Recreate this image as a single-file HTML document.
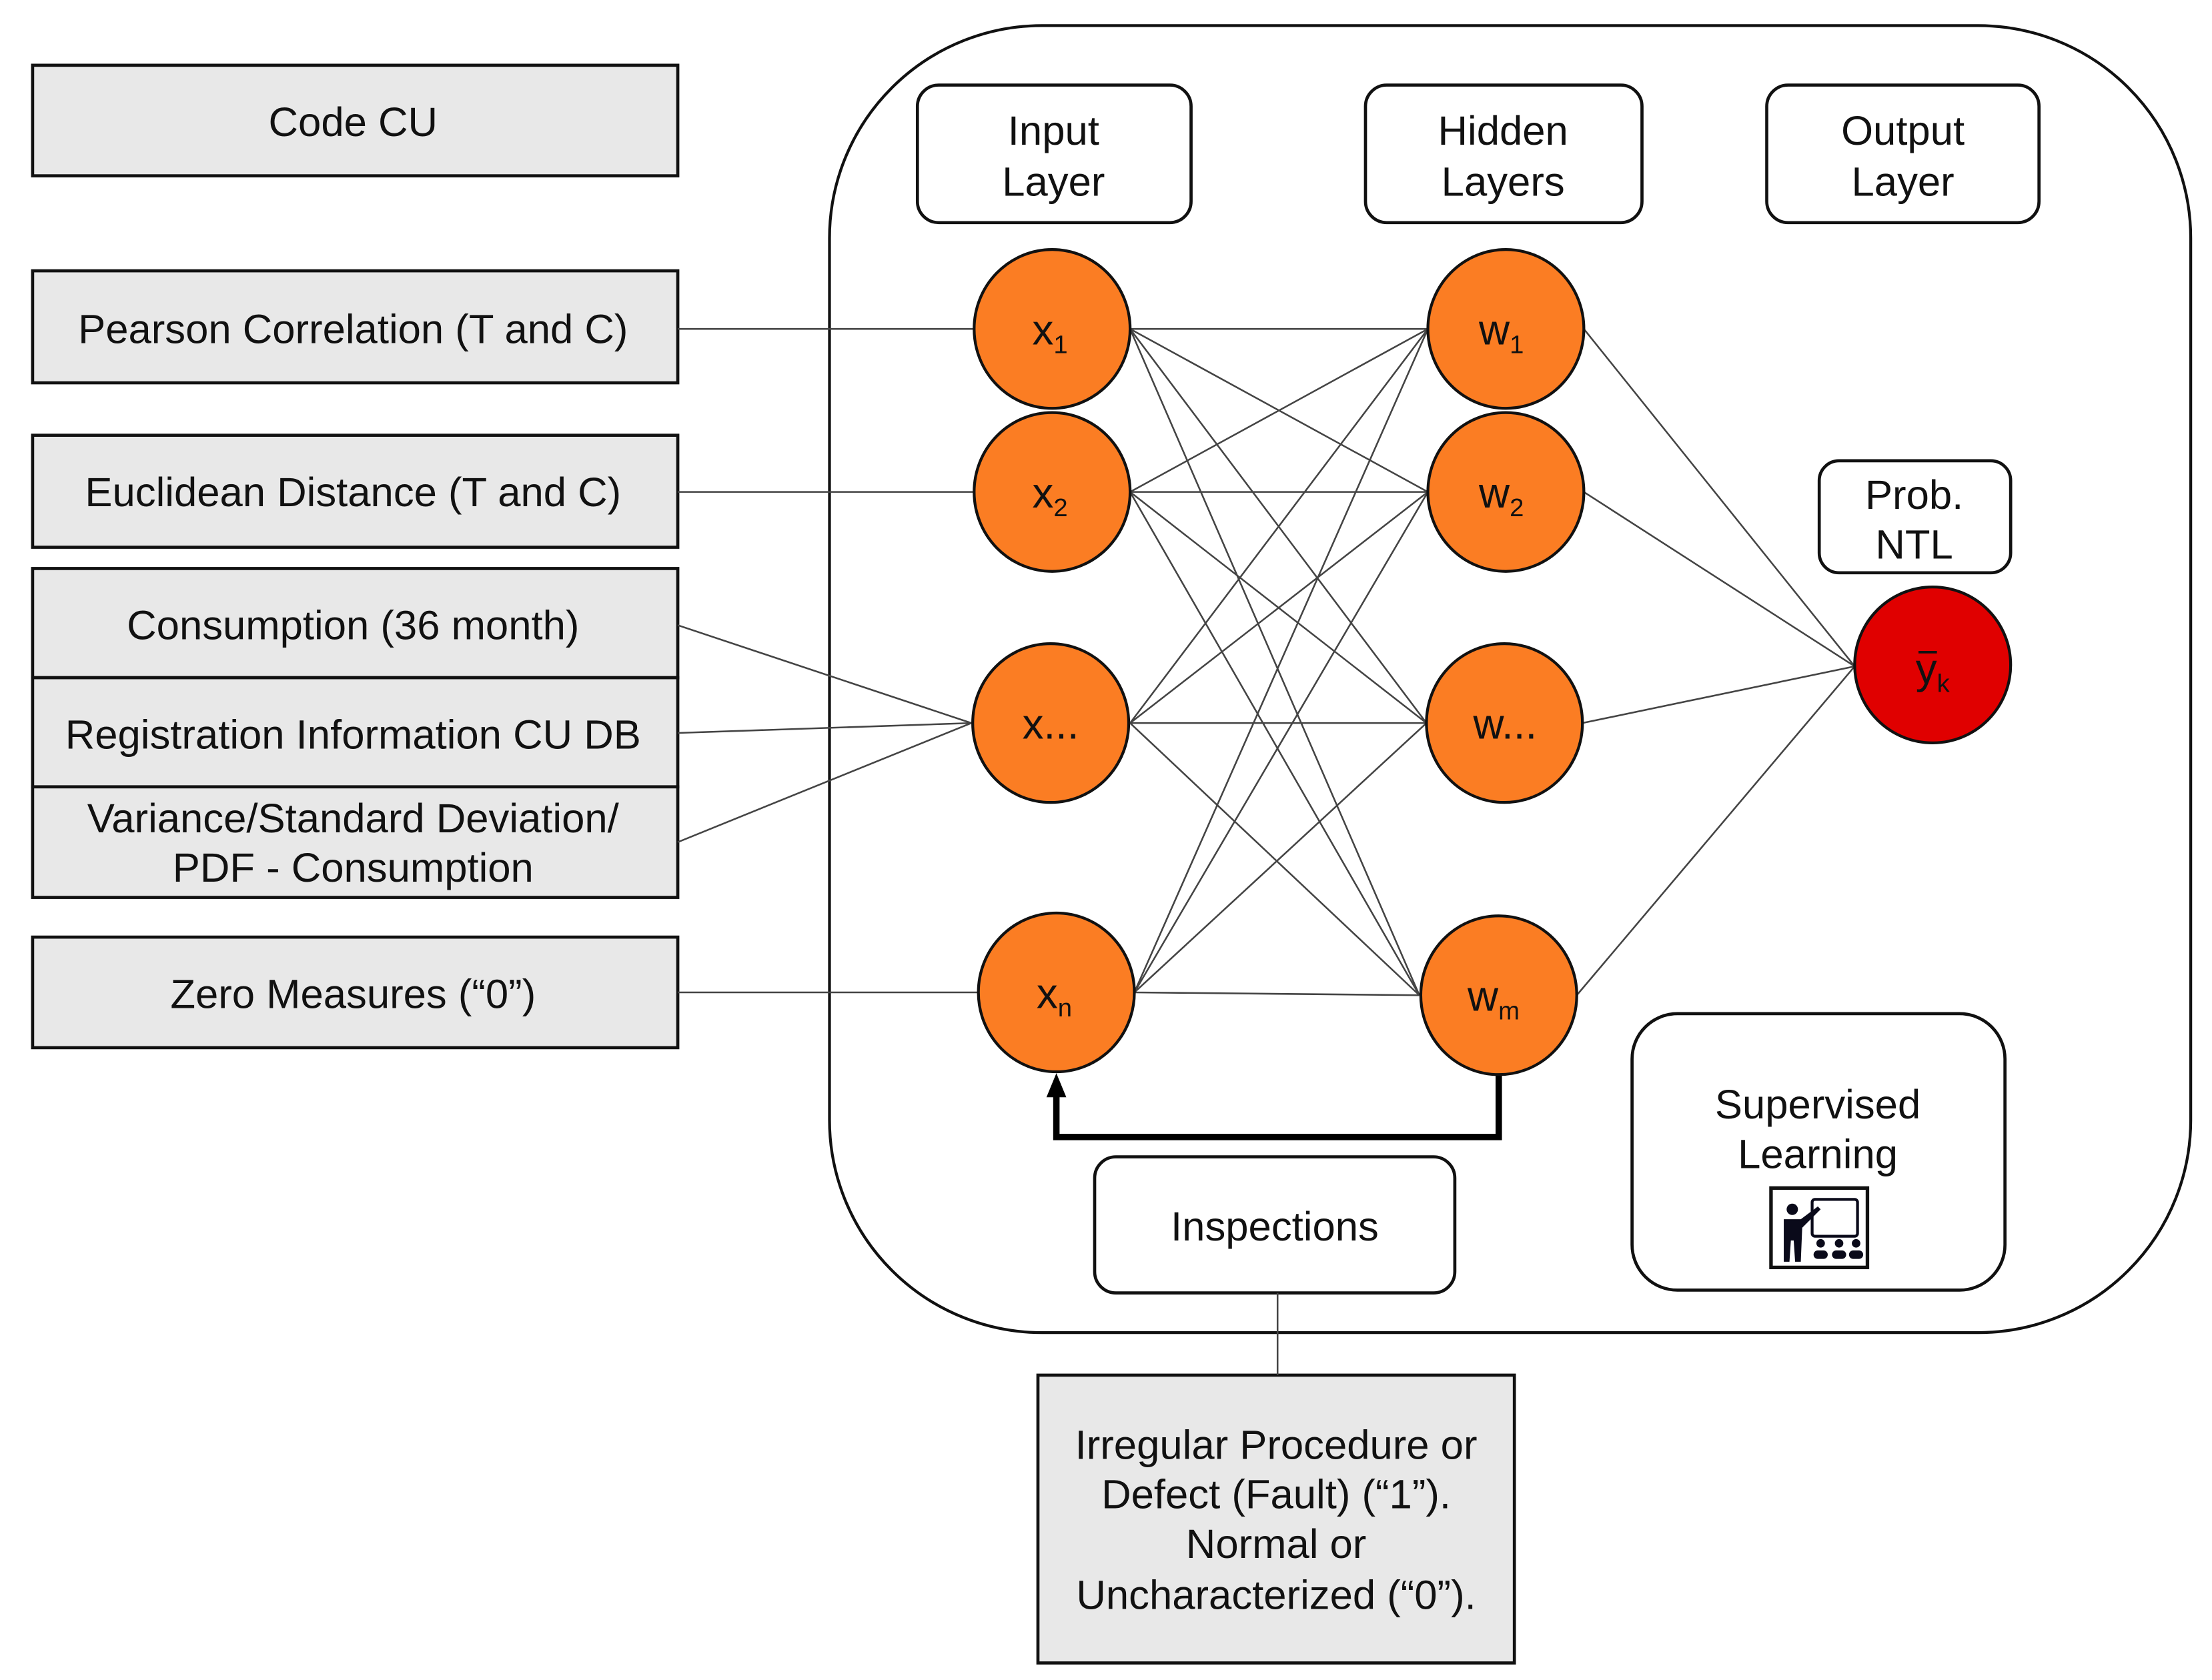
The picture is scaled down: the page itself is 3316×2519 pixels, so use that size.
<!DOCTYPE html>
<html><head><meta charset="utf-8"><style>html,body{margin:0;padding:0;background:#fff}svg{display:block}text{font-family:"Liberation Sans",Arial,sans-serif;fill:#111}</style></head>
<body>
<svg width="3316" height="2519" viewBox="0 0 1560 1185" xmlns="http://www.w3.org/2000/svg">
<rect x="0" y="0" width="1560" height="1185" fill="#fff"/>
<rect x="585" y="18" width="960" height="922" rx="150" fill="#fff" stroke="#111" stroke-width="2"/>
<g fill="#e8e8e8" stroke="#111" stroke-width="2.2">
<rect x="23" y="46" width="455" height="78"/>
<rect x="23" y="191" width="455" height="79"/>
<rect x="23" y="307" width="455" height="79"/>
<rect x="23" y="401" width="455" height="77"/>
<rect x="23" y="478" width="455" height="77"/>
<rect x="23" y="555" width="455" height="78"/>
<rect x="23" y="661" width="455" height="78"/>
<rect x="732" y="970" width="336" height="203"/>
</g>
<g font-size="29" text-anchor="middle">
<text x="249" y="96">Code CU</text>
<text x="249" y="242">Pearson Correlation (T and C)</text>
<text x="249" y="357">Euclidean Distance (T and C)</text>
<text x="249" y="451">Consumption (36 month)</text>
<text x="249" y="528">Registration Information CU DB</text>
<text x="249" y="587">Variance/Standard Deviation/</text>
<text x="249" y="622">PDF - Consumption</text>
<text x="249" y="711">Zero Measures (“0”)</text>
<text x="900" y="1029">Irregular Procedure or</text>
<text x="900" y="1064">Defect (Fault) (“1”).</text>
<text x="900" y="1099">Normal or</text>
<text x="900" y="1135">Uncharacterized (“0”).</text>
</g>
<g fill="#fff" stroke="#111" stroke-width="2.2">
<rect x="647" y="60" width="193" height="97" rx="15"/>
<rect x="963" y="60" width="195" height="97" rx="15"/>
<rect x="1246" y="60" width="192" height="97" rx="15"/>
<rect x="1283" y="325" width="135" height="79" rx="14"/>
<rect x="772" y="816" width="254" height="96" rx="15"/>
<rect x="1151" y="715" width="263" height="195" rx="32"/>
</g>
<g font-size="29" text-anchor="middle">
<text x="743" y="102">Input</text><text x="743" y="138">Layer</text>
<text x="1060" y="102">Hidden</text><text x="1060" y="138">Layers</text>
<text x="1342" y="102">Output</text><text x="1342" y="138">Layer</text>
<text x="1350" y="359">Prob.</text><text x="1350" y="394">NTL</text>
<text x="899" y="875">Inspections</text>
<text x="1282" y="789">Supervised</text><text x="1282" y="824">Learning</text>
</g>
<g stroke="#444" stroke-width="1.2" fill="none">
<line x1="478" y1="232" x2="687" y2="232"/>
<line x1="478" y1="347" x2="687" y2="347"/>
<line x1="478" y1="441" x2="685" y2="510"/>
<line x1="478" y1="517" x2="685" y2="510"/>
<line x1="478" y1="594" x2="685" y2="510"/>
<line x1="478" y1="700" x2="690" y2="700"/>
<line x1="901" y1="912" x2="901" y2="970"/>
<path d="M797 232L1007 232M797 232L1007 347M797 232L1006 510M797 232L1001 702
M797 347L1007 232M797 347L1007 347M797 347L1006 510M797 347L1001 702
M797 510L1007 232M797 510L1007 347M797 510L1006 510M797 510L1001 702
M800 700L1007 232M800 700L1007 347M800 700L1006 510M800 700L1001 702
M1117 232L1308 470M1117 347L1308 470M1116 510L1308 470M1112 702L1308 470"/>
</g>
<path d="M1057 757L1057 802L745 802L745 772" fill="none" stroke="#000" stroke-width="4.5"/>
<polygon points="745,757 738,774 752,774" fill="#000"/>
<g fill="#fb7d23" stroke="#111" stroke-width="2">
<ellipse cx="742" cy="232" rx="55" ry="56"/>
<ellipse cx="742" cy="347" rx="55" ry="56"/>
<ellipse cx="741" cy="510" rx="55" ry="56"/>
<ellipse cx="745" cy="700" rx="55" ry="56"/>
<ellipse cx="1062" cy="232" rx="55" ry="56"/>
<ellipse cx="1062" cy="347" rx="55" ry="56"/>
<ellipse cx="1061" cy="510" rx="55" ry="56"/>
<ellipse cx="1057" cy="702" rx="55" ry="56"/>
</g>
<circle cx="1363" cy="469" r="55" fill="#e00000" stroke="#111" stroke-width="2"/>
<g font-size="30">
<text x="728" y="243">x<tspan font-size="18" dy="6">1</tspan></text>
<text x="728" y="358">x<tspan font-size="18" dy="6">2</tspan></text>
<text x="721" y="521">x...</text>
<text x="731" y="711">x<tspan font-size="18" dy="6">n</tspan></text>
<text x="1043" y="243">w<tspan font-size="18" dy="6">1</tspan></text>
<text x="1043" y="358">w<tspan font-size="18" dy="6">2</tspan></text>
<text x="1039" y="521">w...</text>
<text x="1035" y="713">w<tspan font-size="18" dy="6">m</tspan></text>
<text x="1351" y="482">y<tspan font-size="18" dy="6">k</tspan></text>
</g>
<line x1="1353" y1="460" x2="1366" y2="460" stroke="#111" stroke-width="1.8"/>
<rect x="1249" y="838" width="68" height="56" fill="#fff" stroke="#111" stroke-width="2.5"/>
<g fill="#0a0a1a">
<rect x="1278" y="846" width="32" height="26" fill="none" stroke="#0a0a1a" stroke-width="2" rx="2"/>
<circle cx="1264" cy="853" r="4"/>
<path d="M1258 860L1270 860L1282 851L1284 853L1271 866L1270 890L1266 890L1265 875L1263 875L1262 890L1258 890Z"/>
<circle cx="1284" cy="877" r="3"/><rect x="1279" y="882" width="10" height="6" rx="3"/>
<circle cx="1297" cy="877" r="3"/><rect x="1292" y="882" width="10" height="6" rx="3"/>
<circle cx="1309" cy="877" r="3"/><rect x="1304" y="882" width="10" height="6" rx="3"/>
</g>
</svg>
</body></html>
